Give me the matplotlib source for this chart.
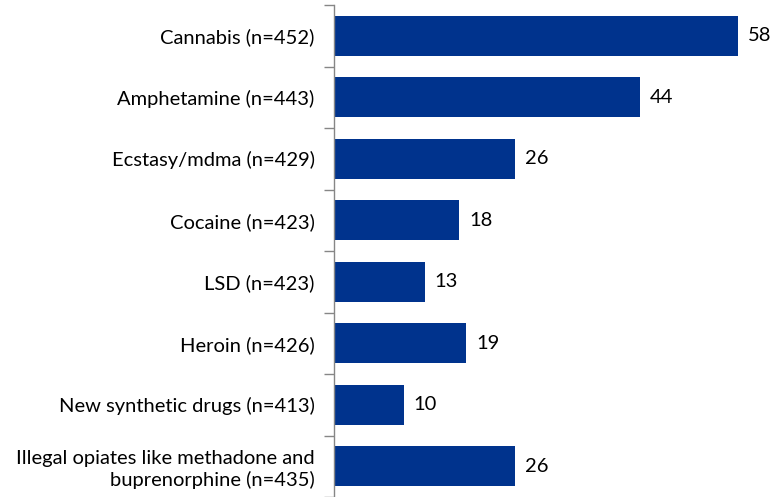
import matplotlib.pyplot as plt
import numpy as np

# Datos
categorias = [
    "Cannabis (n=452)",
    "Amphetamine (n=443)",
    "Ecstasy/mdma (n=429)",
    "Cocaine (n=423)",
    "LSD (n=423)",
    "Heroin (n=426)",
    "New synthetic drugs (n=413)",
    "Illegal opiates like methadone and\nbuprenorphine (n=435)",
]
valores = [58, 44, 26, 18, 13, 19, 10, 26]

color_barra = "#00338D"
color_eje = "#868686"

plt.rcParams['font.family'] = ['Lato', 'DejaVu Sans']

fig = plt.figure(figsize=(7.72, 4.97), dpi=100)
ax = fig.add_axes([334 / 772, 0, 1 - 334 / 772, 492 / 497])

y = np.arange(len(categorias))
ax.barh(y, valores, height=0.65, color=color_barra)
ax.set_ylim(len(categorias) - 0.5, -0.5)
ax.set_xlim(0, 62.9)

# Etiquetas de valores
for yi, v in zip(y, valores):
    ax.text(v + 1.4, yi, str(v), va='center', ha='left', fontsize=14.5, color='black')

# Eje y con marcas entre categorías
ax.set_yticks(y)
ax.set_yticklabels(categorias, fontsize=14.5, ha='right', multialignment='right',
                   linespacing=1.25)
ax.tick_params(axis='y', which='major', length=0, pad=14)
ax.set_yticks(np.arange(-0.5, len(categorias) + 0.5, 1), minor=True)
ax.tick_params(axis='y', which='minor', length=7, color=color_eje, width=1)
ax.set_xticks([])

for s in ['top', 'right', 'bottom']:
    ax.spines[s].set_visible(False)
ax.spines['left'].set_color(color_eje)
ax.spines['left'].set_linewidth(1)

fig.savefig("out.png", dpi=100)
